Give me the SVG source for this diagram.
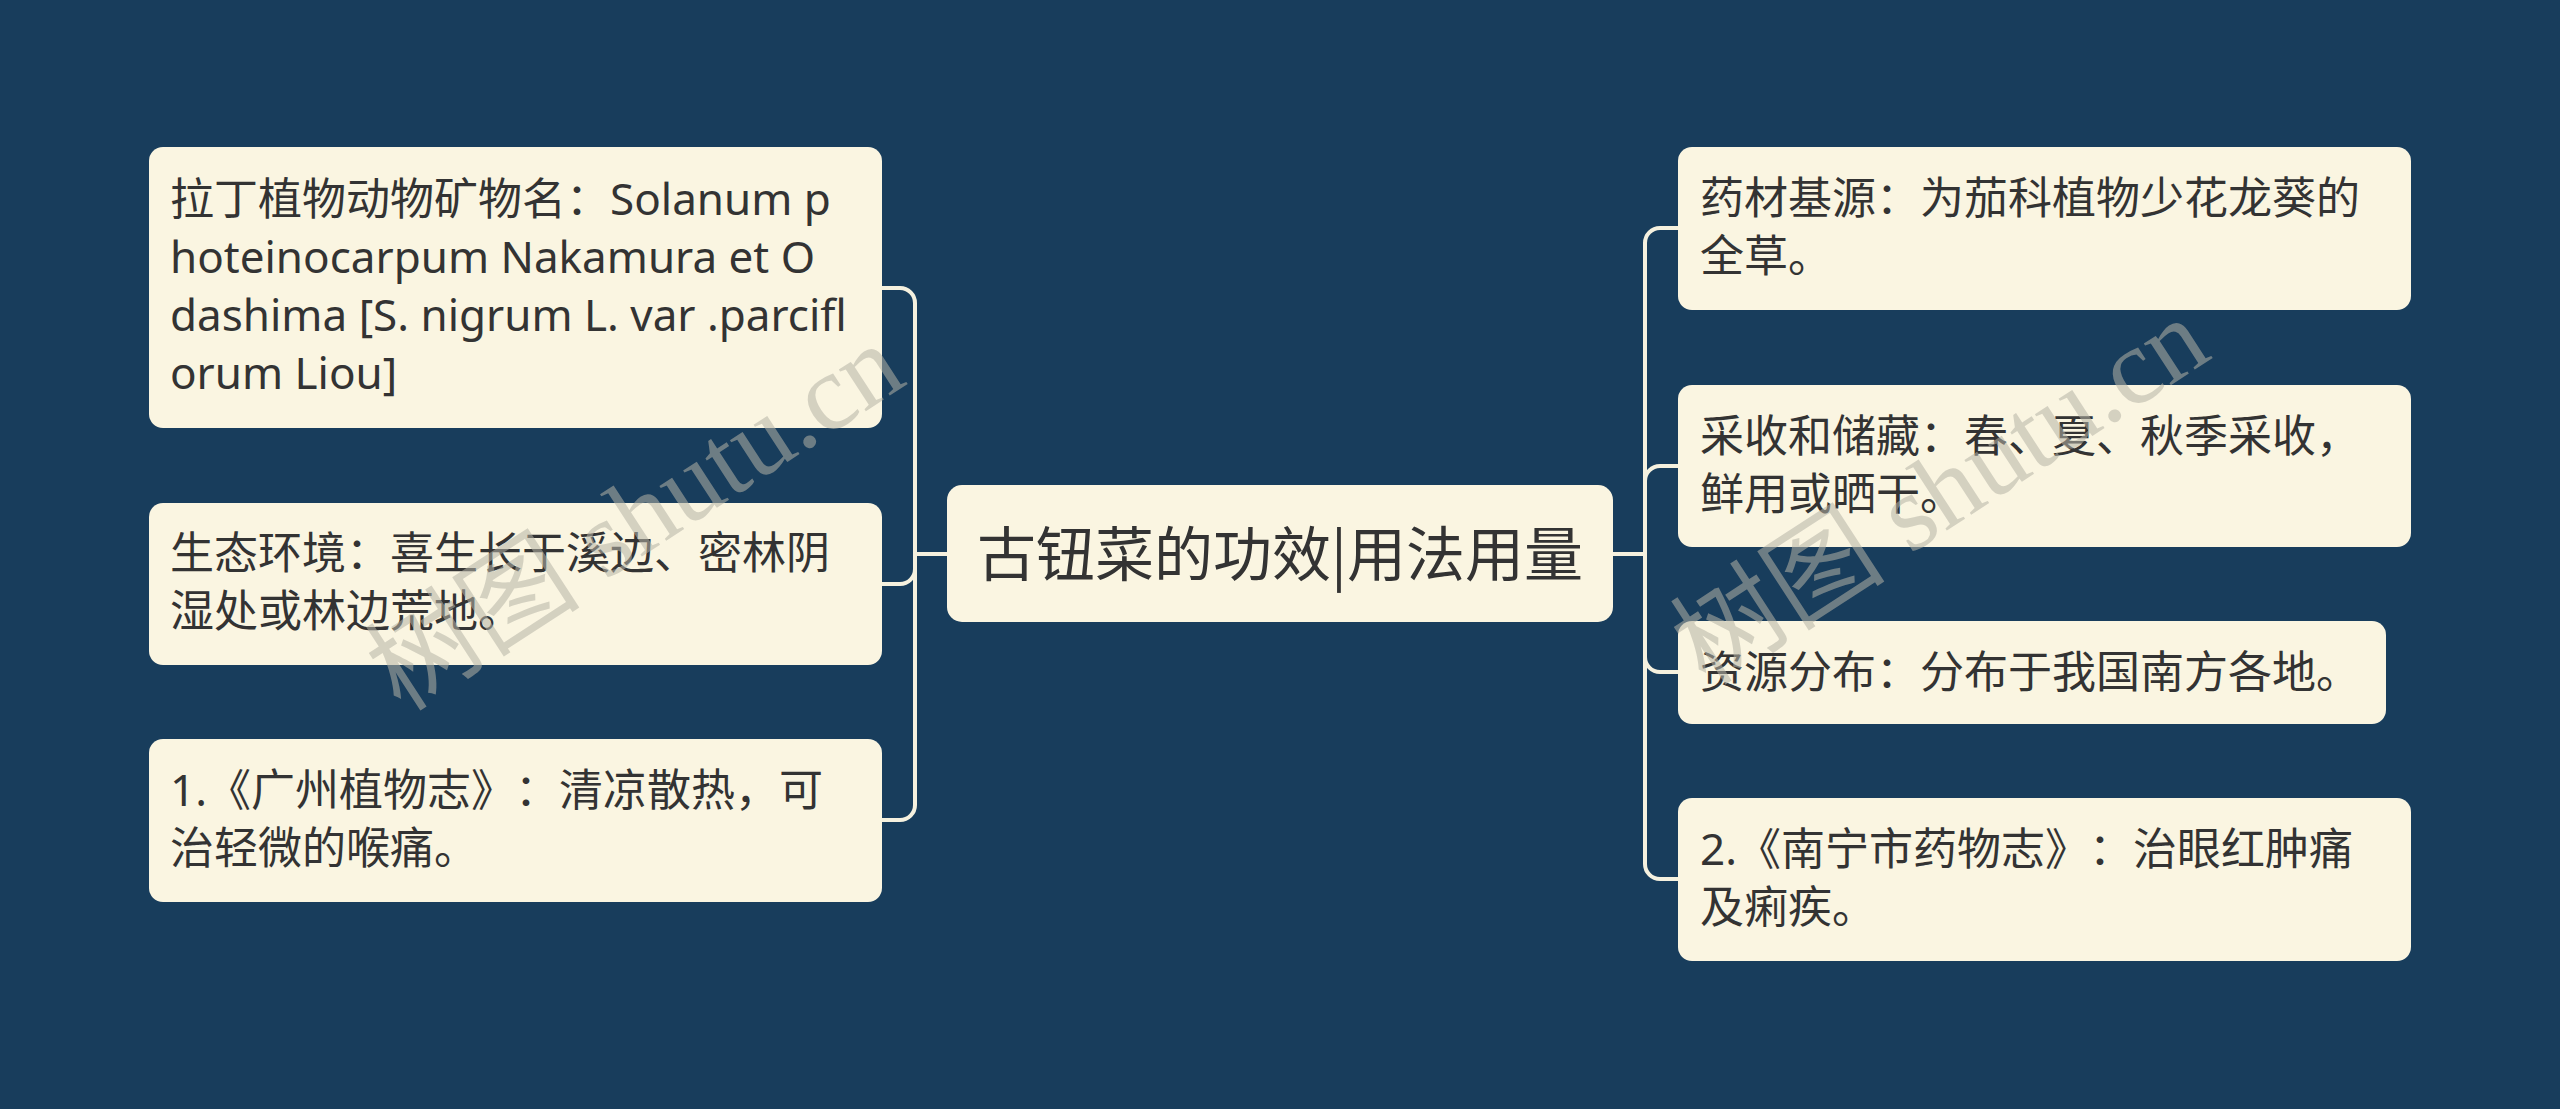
<svg xmlns="http://www.w3.org/2000/svg" width="2560" height="1109" viewBox="0 0 2560 1109">
<style>
.bg{fill:#183d5c}
.box{fill:#faf5e1}
.t{font-family:"Noto Sans","Noto Sans CJK SC",sans-serif;font-size:44px;fill:#333333;text-spacing-trim:space-all}
.c{font-family:"Noto Sans CJK SC",sans-serif;font-size:59px;fill:#333333;text-anchor:middle;text-spacing-trim:space-all}
.ln{fill:none;stroke:#f5f1df;stroke-width:4}
.wm{font-family:"Liberation Serif","Noto Sans CJK SC",serif;font-size:108px;fill:#b4b2a6;fill-opacity:0.55;text-anchor:middle}
</style>
<rect class="bg" x="0" y="0" width="2560" height="1109"/>
<g id="connectors">
<path class="ln" d="M947,554 H915 V303 A15,15 0 0 0 900,288 H882"/>
<path class="ln" d="M947,554 H915 V569 A15,15 0 0 1 900,584 H882"/>
<path class="ln" d="M947,554 H915 V805 A15,15 0 0 1 900,820 H882"/>
<path class="ln" d="M1613,554 H1645 V243 A15,15 0 0 1 1660,228 H1678"/>
<path class="ln" d="M1613,554 H1645 V481 A15,15 0 0 1 1660,466 H1678"/>
<path class="ln" d="M1613,554 H1645 V657 A15,15 0 0 0 1660,672 H1678"/>
<path class="ln" d="M1613,554 H1645 V864 A15,15 0 0 0 1660,879 H1678"/>
</g>
<g id="center">
<rect class="box" x="947" y="485" width="666" height="137" rx="15"/>
<text class="c" x="1280" y="576">古钮菜的功效|用法用量</text>
</g>
<g id="left1">
<rect class="box" x="149" y="147" width="733" height="281" rx="14"/>
<text class="t" x="170" y="215"><tspan x="170">拉丁植物动物矿物名：Solanum p</tspan><tspan x="170" dy="58">hoteinocarpum Nakamura et O</tspan><tspan x="170" dy="58">dashima [S. nigrum L. var .parcifl</tspan><tspan x="170" dy="58">orum Liou]</tspan></text>
</g>
<g id="left2">
<rect class="box" x="149" y="503" width="733" height="162" rx="14"/>
<text class="t" x="170" y="569"><tspan x="170">生态环境：喜生长于溪边、密林阴</tspan><tspan x="170" dy="58">湿处或林边荒地。</tspan></text>
</g>
<g id="left3">
<rect class="box" x="149" y="739" width="733" height="163" rx="14"/>
<text class="t" x="170" y="806"><tspan x="170">1.《广州植物志》：清凉散热，可</tspan><tspan x="170" dy="58">治轻微的喉痛。</tspan></text>
</g>
<g id="right1">
<rect class="box" x="1678" y="147" width="733" height="163" rx="14"/>
<text class="t" x="1700" y="214"><tspan x="1700">药材基源：为茄科植物少花龙葵的</tspan><tspan x="1700" dy="58">全草。</tspan></text>
</g>
<g id="right2">
<rect class="box" x="1678" y="385" width="733" height="162" rx="14"/>
<text class="t" x="1700" y="452"><tspan x="1700">采收和储藏：春、夏、秋季采收，</tspan><tspan x="1700" dy="58">鲜用或晒干。</tspan></text>
</g>
<g id="right3">
<rect class="box" x="1678" y="621" width="708" height="103" rx="14"/>
<text class="t" x="1700" y="688">资源分布：分布于我国南方各地。</text>
</g>
<g id="right4">
<rect class="box" x="1678" y="798" width="733" height="163" rx="14"/>
<text class="t" x="1700" y="865"><tspan x="1700">2.《南宁市药物志》：治眼红肿痛</tspan><tspan x="1700" dy="58">及痢疾。</tspan></text>
</g>
<g id="watermark">
<text class="wm" transform="translate(655,548) rotate(-33)">树图 shutu.cn</text>
<text class="wm" transform="translate(1960,522) rotate(-33)">树图 shutu.cn</text>
</g>
</svg>
